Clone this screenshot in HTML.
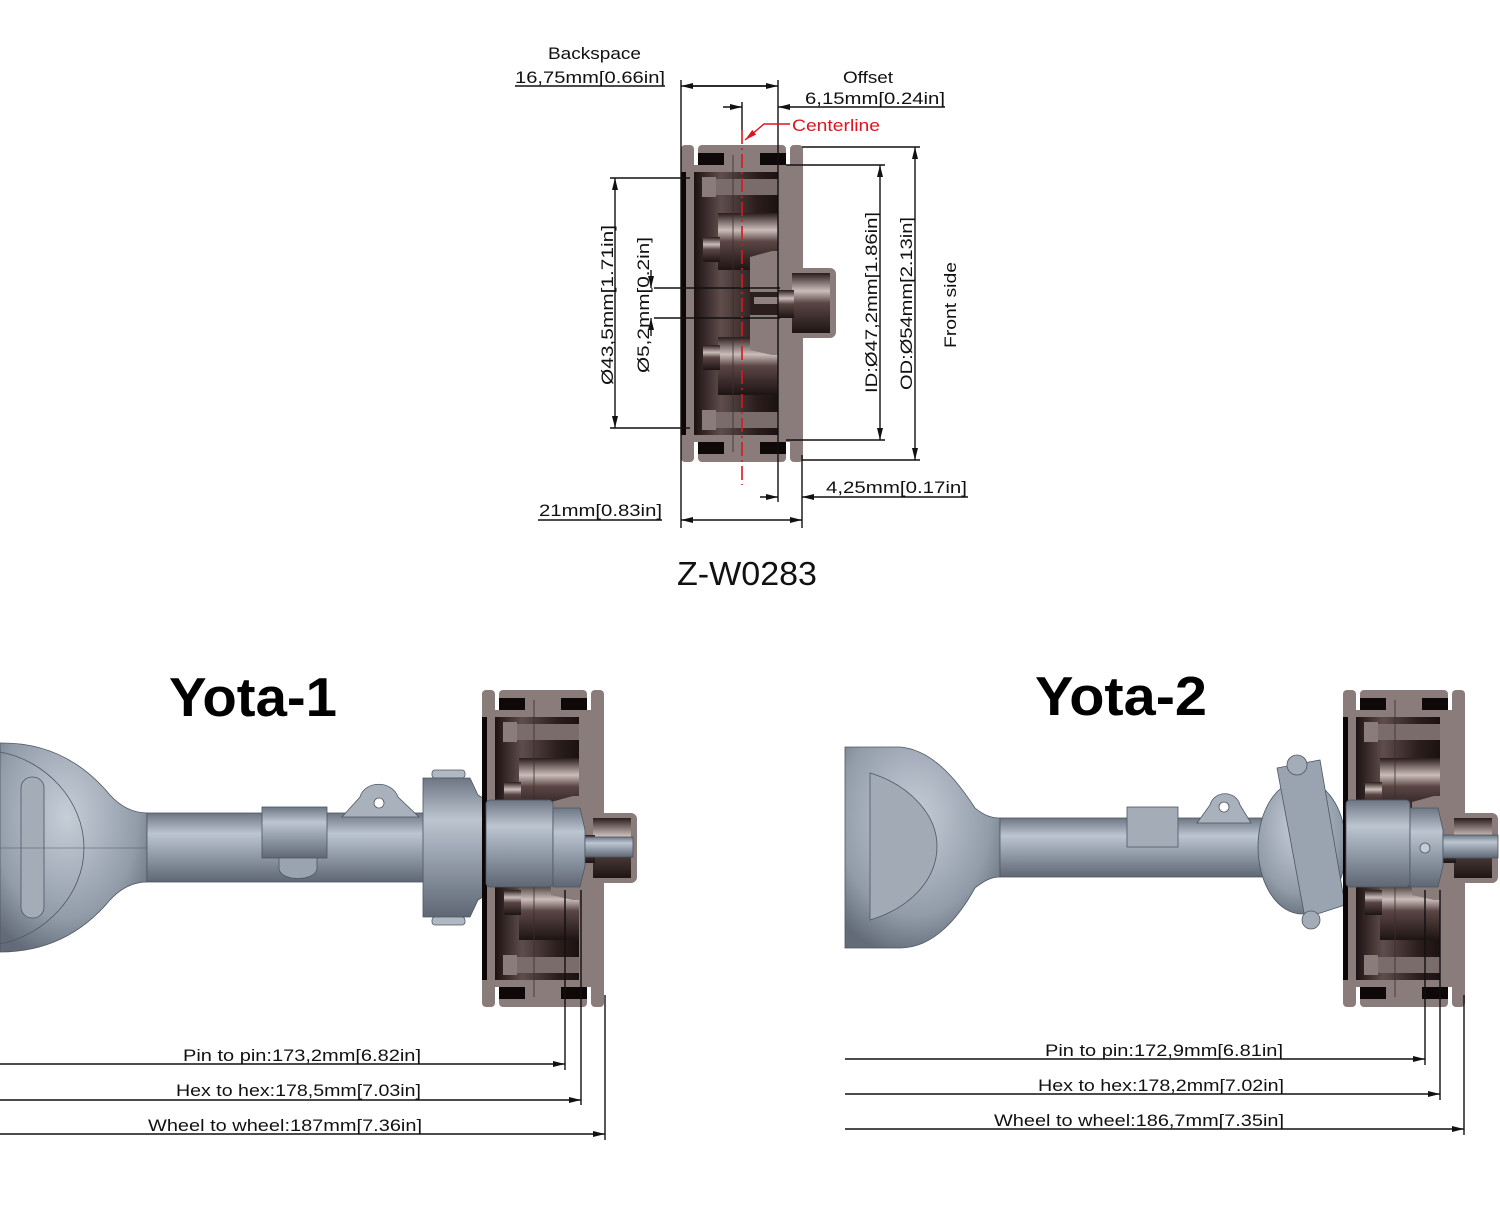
<!DOCTYPE html>
<html><head><meta charset="utf-8"><style>
html,body{margin:0;padding:0;background:#fff}
svg{display:block}
text{font-family:"Liberation Sans",sans-serif}
</style></head><body>
<svg width="1500" height="1222" viewBox="0 0 1500 1222" xmlns="http://www.w3.org/2000/svg">
<defs>
<marker id="ar" viewBox="0 0 12 6" refX="12" refY="3" markerWidth="12" markerHeight="6" orient="auto" markerUnits="userSpaceOnUse"><path d="M0,0 L12,3 L0,6 z" fill="#111"/></marker>
<marker id="arr" viewBox="0 0 12 6" refX="12" refY="3" markerWidth="12" markerHeight="6" orient="auto" markerUnits="userSpaceOnUse"><path d="M0,0 L12,3 L0,6 z" fill="#e0141e"/></marker>
<linearGradient id="dk" x1="0" y1="0" x2="1" y2="0">
<stop offset="0" stop-color="#0e0707"/><stop offset="0.12" stop-color="#1a0f0f"/><stop offset="0.4" stop-color="#5e4d4b"/><stop offset="0.75" stop-color="#2b1e1d"/><stop offset="1" stop-color="#1a1010"/></linearGradient>
<linearGradient id="cyl" x1="0" y1="0" x2="0" y2="1">
<stop offset="0" stop-color="#2a1c1b"/><stop offset="0.3" stop-color="#cbbeba"/><stop offset="0.5" stop-color="#5a4644"/><stop offset="1" stop-color="#1e1414"/></linearGradient>
<linearGradient id="ax" x1="0" y1="0" x2="0" y2="1">
<stop offset="0" stop-color="#6d7683"/><stop offset="0.3" stop-color="#bcc5d0"/><stop offset="0.55" stop-color="#9aa4b0"/><stop offset="1" stop-color="#5e6773"/></linearGradient>
<radialGradient id="dif" cx="0.45" cy="0.35" r="0.7">
<stop offset="0" stop-color="#c6ced8"/><stop offset="0.7" stop-color="#929ca9"/><stop offset="1" stop-color="#626b77"/></radialGradient>
<g id="wheel">
  <rect x="1" y="25" width="100" height="267" fill="url(#dk)"/>
  <rect x="1" y="0" width="13" height="317" rx="4" fill="#8a7c7a"/>
  <rect x="1" y="27" width="5" height="263" fill="#0c0606"/>
  <rect x="18" y="0" width="88" height="22" rx="4" fill="#8a7c7a"/>
  <rect x="18" y="8" width="26" height="12" fill="#0e0808"/><rect x="80" y="8" width="26" height="12" fill="#0e0808"/>
  <rect x="18" y="295" width="88" height="22" rx="4" fill="#8a7c7a"/>
  <rect x="18" y="297" width="26" height="12" fill="#0e0808"/><rect x="80" y="297" width="26" height="12" fill="#0e0808"/>
  <rect x="6" y="20" width="104" height="7" fill="#8a7c7a"/>
  <rect x="6" y="290" width="104" height="7" fill="#8a7c7a"/>
  <rect x="110" y="0" width="13" height="317" rx="4" fill="#8a7c7a"/>
  <rect x="98" y="20" width="25" height="277" fill="#8a7c7a"/>
  <!-- bolts -->
  <rect x="36" y="34" width="62" height="16" fill="#7a6c6a"/>
  <rect x="22" y="32" width="14" height="20" fill="#8a7c7a"/>
  <rect x="36" y="267" width="62" height="16" fill="#7a6c6a"/>
  <rect x="22" y="265" width="14" height="20" fill="#8a7c7a"/>
  <!-- bearings -->
  <rect x="38" y="68" width="60" height="57" fill="url(#cyl)"/>
  <rect x="23" y="92" width="17" height="25" fill="url(#cyl)"/>
  <rect x="38" y="192" width="60" height="58" fill="url(#cyl)"/>
  <rect x="23" y="200" width="17" height="25" fill="url(#cyl)"/>
  <!-- center gray steps -->
  <path d="M70,112 L92,106 L98,106 L98,147 L70,147 Z" fill="#8a7c7a"/>
  <path d="M70,170 L98,170 L98,210 L92,210 L70,205 Z" fill="#8a7c7a"/>
  <rect x="70" y="147" width="28" height="23" fill="#2b1f1e"/>
  <rect x="74" y="152" width="24" height="7" fill="#8f8280"/>
  <!-- hub cap -->
  <rect x="98" y="123" width="58" height="70" rx="6" fill="#8a7c7a"/>
  <rect x="112" y="128" width="38" height="60" fill="url(#cyl)"/>
  <rect x="98" y="145" width="16" height="28" fill="url(#cyl)"/>
  <line x1="53" y1="10" x2="53" y2="307" stroke="#3a2e2d" stroke-width="0.8"/>
</g>
</defs>

<!-- ===== TOP DRAWING ===== -->
<use href="#wheel" x="680" y="145"/>

<g stroke="#111" stroke-width="1.4" fill="none">
  <line x1="515" y1="86" x2="665" y2="86"/>
  <line x1="681" y1="80" x2="681" y2="528"/>
  <line x1="778" y1="80" x2="778" y2="502"/>
  <line x1="690" y1="86" x2="778" y2="86" marker-end="url(#ar)"/>
  <line x1="770" y1="86" x2="681" y2="86" marker-end="url(#ar)"/>
  <line x1="742" y1="102" x2="742" y2="130"/>
  <line x1="723" y1="107" x2="742" y2="107" marker-end="url(#ar)"/>
  <line x1="945" y1="107" x2="778" y2="107" marker-end="url(#ar)"/>
  <line x1="610" y1="178" x2="690" y2="178"/>
  <line x1="610" y1="428" x2="690" y2="428"/>
  <line x1="615" y1="190" x2="615" y2="178" marker-end="url(#ar)"/>
  <line x1="615" y1="190" x2="615" y2="416"/>
  <line x1="615" y1="416" x2="615" y2="428" marker-end="url(#ar)"/>
  <line x1="654" y1="288" x2="780" y2="288"/>
  <line x1="654" y1="318" x2="780" y2="318"/>
  <line x1="651" y1="270" x2="651" y2="288" marker-end="url(#ar)"/>
  <line x1="651" y1="336" x2="651" y2="318" marker-end="url(#ar)"/>
  <line x1="786" y1="165" x2="885" y2="165"/>
  <line x1="786" y1="440" x2="885" y2="440"/>
  <line x1="880" y1="300" x2="880" y2="165" marker-end="url(#ar)"/>
  <line x1="880" y1="300" x2="880" y2="440" marker-end="url(#ar)"/>
  <line x1="802" y1="147" x2="920" y2="147"/>
  <line x1="802" y1="460" x2="920" y2="460"/>
  <line x1="915" y1="300" x2="915" y2="147" marker-end="url(#ar)"/>
  <line x1="915" y1="300" x2="915" y2="460" marker-end="url(#ar)"/>
  <line x1="802" y1="455" x2="802" y2="528"/>
  <line x1="760" y1="497" x2="778" y2="497" marker-end="url(#ar)"/>
  <line x1="968" y1="497" x2="802" y2="497" marker-end="url(#ar)"/>
  <line x1="538" y1="520" x2="662" y2="520"/>
  <line x1="740" y1="520" x2="681" y2="520" marker-end="url(#ar)"/>
  <line x1="740" y1="520" x2="802" y2="520" marker-end="url(#ar)"/>
</g>
<line x1="742" y1="130" x2="742" y2="485" stroke="#e0141e" stroke-width="1.6" stroke-dasharray="14,4,2,4"/>
<polyline points="790,124 764,124 745,140" fill="none" stroke="#e0141e" stroke-width="1.4" marker-end="url(#arr)"/>

<g font-size="17" fill="#111">
  <text x="548" y="59" textLength="93" lengthAdjust="spacingAndGlyphs">Backspace</text>
  <text x="515" y="83" textLength="150" lengthAdjust="spacingAndGlyphs">16,75mm[0.66in]</text>
  <text x="843" y="83" textLength="50" lengthAdjust="spacingAndGlyphs">Offset</text>
  <text x="805" y="104" textLength="140" lengthAdjust="spacingAndGlyphs">6,15mm[0.24in]</text>
  <text x="792" y="131" fill="#e0141e" textLength="88" lengthAdjust="spacingAndGlyphs">Centerline</text>
  <text x="826" y="493" textLength="141" lengthAdjust="spacingAndGlyphs">4,25mm[0.17in]</text>
  <text x="539" y="516" textLength="123" lengthAdjust="spacingAndGlyphs">21mm[0.83in]</text>
  <text transform="translate(613,385) rotate(-90)" textLength="160" lengthAdjust="spacingAndGlyphs">Ø43,5mm[1.71in]</text>
  <text transform="translate(649,373) rotate(-90)" textLength="136" lengthAdjust="spacingAndGlyphs">Ø5,2mm[0.2in]</text>
  <text transform="translate(877,393) rotate(-90)" textLength="181" lengthAdjust="spacingAndGlyphs">ID:Ø47,2mm[1.86in]</text>
  <text transform="translate(912,390) rotate(-90)" textLength="173" lengthAdjust="spacingAndGlyphs">OD:Ø54mm[2.13in]</text>
  <text transform="translate(956,348) rotate(-90)" textLength="86" lengthAdjust="spacingAndGlyphs">Front side</text>
</g>
<text x="677" y="585" font-size="33" textLength="140" lengthAdjust="spacingAndGlyphs" fill="#111">Z-W0283</text>

<!-- ===== YOTA-1 ===== -->
<text x="169" y="716" font-size="55" font-weight="bold" textLength="168" lengthAdjust="spacingAndGlyphs" fill="#000">Yota-1</text>
<g stroke="#4d5662" stroke-width="0.8">
  <path d="M0,743 C50,742 85,765 110,795 C122,808 135,813 147,813 L147,882 C135,882 122,887 110,900 C85,930 50,952 0,952 Z" fill="url(#dif)"/>
  <path d="M0,752 C45,760 84,800 84,848 C84,895 45,935 0,944" fill="none"/>
  <rect x="21" y="777" width="23" height="141" rx="11" fill="#a3acb7"/>
  <line x1="0" y1="848" x2="147" y2="848" stroke-width="0.5"/>
  <rect x="147" y="813" width="278" height="69" fill="url(#ax)"/>
  <rect x="262" y="807" width="65" height="51" fill="url(#ax)"/>
  <path d="M279,858 L279,868 C279,882 317,882 317,868 L317,858 Z" fill="#9aa4b0"/>
  <path d="M342,817 L360,797 C365,780 392,780 398,797 L419,817 Z" fill="#a8b1bc"/>
  <circle cx="379" cy="803" r="5" fill="#fff"/>
  <rect x="432" y="770" width="33" height="8" rx="3" fill="#b0b9c3"/>
  <path d="M423,778 L470,778 L478,795 L486,800 L486,895 L478,900 L470,917 L423,917 Z" fill="url(#ax)"/>
  <rect x="432" y="917" width="33" height="8" rx="3" fill="#b0b9c3"/>
</g>
<use href="#wheel" x="481" y="690"/>
<g stroke="#4d5662" stroke-width="0.8">
  <rect x="486" y="800" width="67" height="87" rx="4" fill="url(#ax)"/>
  <path d="M553,808 L580,808 L585,830 L585,866 L580,887 L553,887 Z" fill="url(#ax)"/>
  <rect x="585" y="837" width="48" height="20" fill="url(#ax)"/>
</g>

<!-- ===== YOTA-2 ===== -->
<text x="1035" y="715" font-size="55" font-weight="bold" textLength="172" lengthAdjust="spacingAndGlyphs" fill="#000">Yota-2</text>
<g stroke="#4d5662" stroke-width="0.8">
  <path d="M845,747 L900,747 C935,750 960,785 975,808 C985,816 992,818 1000,818 L1000,877 C992,877 985,880 975,888 C960,915 935,948 900,948 L845,948 Z" fill="url(#dif)"/>
  <path d="M870,773 C910,785 937,815 937,846 C937,880 910,908 870,920 Z" fill="#a1aab5"/>
  <rect x="1000" y="818" width="262" height="59" fill="url(#ax)"/>
  <rect x="1127" y="807" width="51" height="40" fill="#a3acb7"/>
  <path d="M1197,823 L1210,805 C1214,790 1236,790 1240,805 L1251,823 Z" fill="#a8b1bc"/>
  <circle cx="1224" cy="807" r="5" fill="#fff"/>
  <ellipse cx="1302" cy="847" rx="44" ry="67" fill="url(#dif)"/>
  <path d="M1277,768 L1320,760 L1345,905 L1305,918 Z" fill="#9aa4b0"/>
  <circle cx="1297" cy="765" r="10" fill="#a3acb7"/>
  <circle cx="1311" cy="920" r="9" fill="#a3acb7"/>
</g>
<use href="#wheel" x="1342" y="690"/>
<g stroke="#4d5662" stroke-width="0.8">
  <rect x="1346" y="800" width="64" height="87" rx="4" fill="url(#ax)"/>
  <path d="M1410,808 L1438,808 L1443,830 L1443,866 L1438,887 L1410,887 Z" fill="url(#ax)"/>
  <circle cx="1425" cy="848" r="5" fill="#c5ccd5"/>
  <rect x="1443" y="835" width="55" height="23" fill="url(#ax)"/>
</g>

<!-- bottom dims -->
<g stroke="#111" stroke-width="1.4" fill="none">
  <line x1="565" y1="890" x2="565" y2="1070"/>
  <line x1="581" y1="890" x2="581" y2="1105"/>
  <line x1="605" y1="995" x2="605" y2="1140"/>
  <line x1="0" y1="1064" x2="565" y2="1064" marker-end="url(#ar)"/>
  <line x1="0" y1="1100" x2="581" y2="1100" marker-end="url(#ar)"/>
  <line x1="0" y1="1134" x2="605" y2="1134" marker-end="url(#ar)"/>
  <line x1="1425" y1="890" x2="1425" y2="1065"/>
  <line x1="1440" y1="890" x2="1440" y2="1100"/>
  <line x1="1464" y1="995" x2="1464" y2="1135"/>
  <line x1="845" y1="1059" x2="1425" y2="1059" marker-end="url(#ar)"/>
  <line x1="845" y1="1094" x2="1440" y2="1094" marker-end="url(#ar)"/>
  <line x1="845" y1="1129" x2="1464" y2="1129" marker-end="url(#ar)"/>
</g>
<g font-size="17" fill="#111">
  <text x="183" y="1061" textLength="238" lengthAdjust="spacingAndGlyphs">Pin to pin:173,2mm[6.82in]</text>
  <text x="176" y="1096" textLength="245" lengthAdjust="spacingAndGlyphs">Hex to hex:178,5mm[7.03in]</text>
  <text x="148" y="1131" textLength="274" lengthAdjust="spacingAndGlyphs">Wheel to wheel:187mm[7.36in]</text>
  <text x="1045" y="1056" textLength="238" lengthAdjust="spacingAndGlyphs">Pin to pin:172,9mm[6.81in]</text>
  <text x="1038" y="1091" textLength="246" lengthAdjust="spacingAndGlyphs">Hex to hex:178,2mm[7.02in]</text>
  <text x="994" y="1126" textLength="290" lengthAdjust="spacingAndGlyphs">Wheel to wheel:186,7mm[7.35in]</text>
</g>
</svg>
</body></html>
